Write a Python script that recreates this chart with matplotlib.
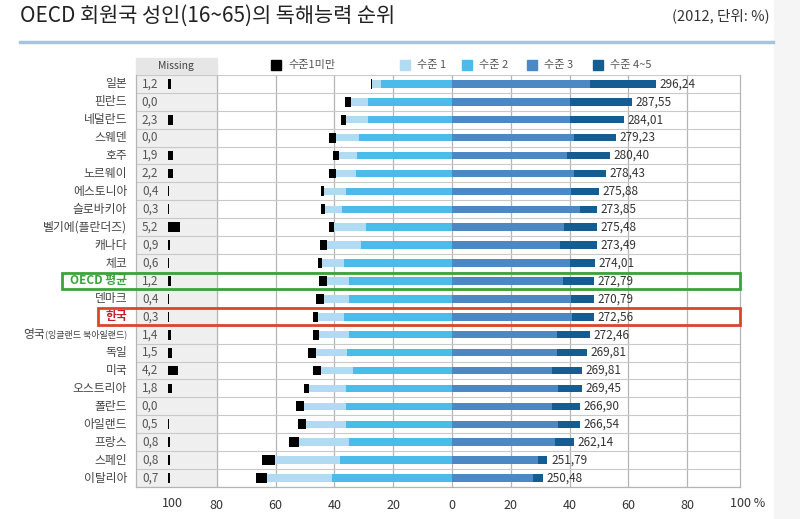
import numpy as np
import matplotlib.pyplot as plt
from matplotlib.patches import Rectangle

plt.rcParams['font.family'] = ['Noto Sans CJK KR', 'DejaVu Sans']

countries = ["일본", "핀란드", "네덜란드", "스웨덴", "호주", "노르웨이", "에스토니아",
             "슬로바키아", "벨기에(플란더즈)", "캐나다", "체코", "OECD 평균", "덴마크",
             "한국", "영국", "독일", "미국", "오스트리아", "폴란드", "아일랜드", "프랑스",
             "스페인", "이탈리아"]
missing = [1.2, 0.0, 2.3, 0.0, 1.9, 2.2, 0.4, 0.3, 5.2, 0.9, 0.6, 1.2, 0.4,
           0.3, 1.4, 1.5, 4.2, 1.8, 0.0, 0.5, 0.8, 0.8, 0.7]
below1 = [0.6, 1.9, 1.8, 2.5, 2.2, 2.5, 1.3, 1.3, 1.8, 2.5, 1.4, 2.8, 3.0,
          1.8, 2.2, 2.5, 2.7, 1.8, 2.7, 2.7, 3.6, 4.6, 4.0]
level1 = [3.0, 6.0, 7.6, 7.6, 6.1, 6.7, 7.3, 5.8, 10.8, 11.5, 7.5, 7.7, 8.5,
          8.9, 10.2, 10.7, 10.9, 12.5, 14.3, 13.7, 16.7, 22.0, 22.0]
level2 = [24.1, 28.4, 28.4, 31.7, 32.3, 32.7, 36.1, 37.5, 29.2, 30.9, 36.6, 34.9, 34.9,
          36.6, 34.9, 35.7, 33.7, 36.1, 36.1, 36.1, 35.2, 38.1, 40.8]
level3 = [46.9, 40.3, 40.3, 41.5, 39.0, 41.5, 40.6, 43.4, 38.1, 36.6, 40.3, 37.7, 40.6,
          40.9, 35.8, 35.8, 33.9, 36.0, 34.2, 36.0, 34.9, 29.3, 27.7]
level45 = [22.4, 21.1, 18.1, 14.2, 14.6, 10.8, 9.5, 6.0, 11.3, 12.8, 8.2, 10.6, 7.8,
           7.5, 11.1, 10.0, 10.3, 8.2, 9.2, 7.4, 6.6, 3.2, 3.3]
scores = ["296,24", "287,55", "284,01", "279,23", "280,40", "278,43", "275,88",
          "273,85", "275,48", "273,49", "274,01", "272,79", "270,79", "272,56",
          "272,46", "269,81", "269,81", "269,45", "266,90", "266,54", "262,14",
          "251,79", "250,48"]

legend_labels = ["수준1미만", "수준 1", "수준 2", "수준 3", "수준 4~5"]
colors = ["#000000", "#b0dbf3", "#4bbbe9", "#4c88c3", "#135d93"]

n = len(countries)
y = np.arange(n)
b1 = np.array(below1)
l1 = np.array(level1)
l2 = np.array(level2)
l3 = np.array(level3)
l45 = np.array(level45)

fig = plt.figure(figsize=(8, 5.19), dpi=100)
ax = fig.add_axes([0.17, 0.0617, 0.755, 0.794])
ax.set_xlim(-107.5, 98)
ax.set_ylim(n - 0.5, -0.5)

# missing panel
ax.add_patch(Rectangle((-107.5, -0.5), 27.5, n, color="#efefef", zorder=0))
ax.add_patch(Rectangle((-107.5, -1.45), 27.5, 0.95, color="#e6e6e6",
                       clip_on=False, zorder=0))
ax.text(-93.75, -0.97, "Missing", ha="center", va="center", fontsize=7.5, color="#444")

# grid
for gx in [-80, -60, -40, -20, 0, 20, 40, 60, 80]:
    ax.axvline(gx, color="#b5b5b5", lw=0.9, zorder=1)
for gy in np.arange(-0.5, n, 1):
    ax.axhline(gy, color="#c9c9c9", lw=0.8, zorder=1)
for s in ax.spines.values():
    s.set_color("#b5b5b5")
    s.set_linewidth(0.9)
ax.spines["top"].set_visible(False)

# main bars
h = 0.42
ax.barh(y, -l2, height=h, color=colors[2], zorder=3)
ax.barh(y, -l1, left=-l2, height=h, color=colors[1], zorder=3)
ax.barh(y, -b1, left=-l2 - l1, height=0.55, color=colors[0], zorder=3)
ax.barh(y, l3, height=h, color=colors[3], zorder=3)
ax.barh(y, l45, left=l3, height=h, color=colors[4], zorder=3)

for i in range(n):
    ax.text(l3[i] + l45[i] + 1.2, y[i], scores[i], ha="left", va="center",
            fontsize=8.5, color="#333", zorder=4)

# missing values
mw = np.maximum(np.array(missing) * 0.8, 0.35) * (np.array(missing) > 0)
ax.barh(y, mw, left=-96.6, height=0.55, color="black", zorder=3)
for i in range(n):
    ax.text(-102.7, y[i], f"{missing[i]:.1f}".replace(".", ","), ha="center",
            va="center", fontsize=8.5, color="#555", zorder=4)

# country labels
fig.canvas.draw()
renderer = fig.canvas.get_renderer()
for i, c in enumerate(countries):
    col, wt = "#444", "normal"
    if c == "OECD 평균":
        col, wt = "#3aa33a", "bold"
    if c == "한국":
        col, wt = "#c8202a", "bold"
    if c.startswith("영국"):
        t = ax.text(-110.5, y[i], "(잉글랜드 북아일랜드)", ha="right", va="center",
                    fontsize=6.5, color=col, clip_on=False)
        bb = t.get_window_extent(renderer)
        xl = ax.transData.inverted().transform((bb.x0, 0))[0]
        ax.text(xl, y[i], "영국", ha="right", va="center", fontsize=8.5,
                color=col, clip_on=False)
    else:
        ax.text(-110.5, y[i], c, ha="right", va="center", fontsize=8.5,
                color=col, weight=wt, clip_on=False)

# highlight boxes
ko = countries.index("한국")
oe = countries.index("OECD 평균")
ax.add_patch(Rectangle((-132.7, oe - 0.47), 230.7, 0.94, fill=False,
                       edgecolor="#3aa33a", lw=2, clip_on=False, zorder=5))
ax.add_patch(Rectangle((-120.4, ko - 0.47), 218.4, 0.94, fill=False,
                       edgecolor="#d9472b", lw=2, clip_on=False, zorder=5))

# x ticks
ax.set_yticks([])
ax.set_xticks([-80, -60, -40, -20, 0, 20, 40, 60, 80])
ax.set_xticklabels(["80", "60", "40", "20", "0", "20", "40", "60", "80"])
ax.tick_params(axis="x", length=0, pad=9, labelsize=9, labelcolor="#333")
ax.text(-95.2, n - 0.5 + 0.9, "100", ha="center", va="center", fontsize=9,
        color="#333", clip_on=False)
ax.text(100.7, n - 0.5 + 0.9, "100 %", ha="center", va="center", fontsize=9,
        color="#333", clip_on=False)

# legend row
leg_x = [271, 400, 462, 527, 593]
for lx, lab, col in zip(leg_x, legend_labels, colors):
    fig.add_artist(Rectangle((lx / 800, 1 - 70 / 519), 10 / 800, 10 / 519,
                             color=col, transform=fig.transFigure))
    fig.text((lx + 17) / 800, 1 - 65 / 519, lab, ha="left", va="center",
             fontsize=8, color="#555")

# title
fig.text(0.025, 1 - 16 / 519, "OECD 회원국 성인(16~65)의 독해능력 순위", ha="left",
         va="center", fontsize=15, color="#222")
fig.text(0.962, 1 - 16 / 519, "(2012, 단위: %)", ha="right", va="center",
         fontsize=10.5, color="#333")
fig.add_artist(plt.Line2D([0.025, 0.966], [1 - 42 / 519] * 2, color="#a7c4de",
                          lw=2.5, transform=fig.transFigure))
fig.add_artist(Rectangle((0.968, 0), 0.032, 1, color="#f5f5f5",
                         transform=fig.transFigure, zorder=-1))

fig.savefig("out.png", dpi=100)
